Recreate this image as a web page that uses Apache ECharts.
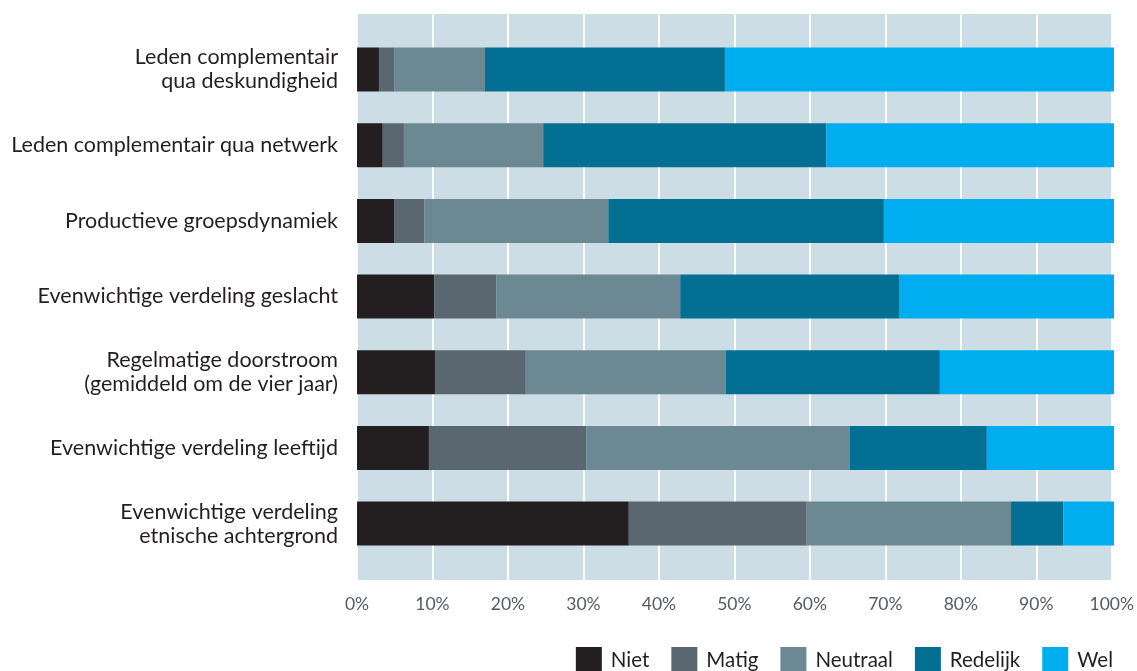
<!DOCTYPE html>
<html>
<head>
<meta charset="utf-8">
<script src="https://cdn.jsdelivr.net/npm/echarts@6/dist/echarts.min.js"></script>
<style>
  html, body { margin: 0; padding: 0; background: #ffffff; }
  #chart { width: 1137px; height: 671px; }
</style>
</head>
<body>
<div id="chart"></div>
<script>
// Statements, top to bottom
const categories = [
  'Leden complementair\nqua deskundigheid',
  'Leden complementair qua netwerk',
  'Productieve groepsdynamiek',
  'Evenwichtige verdeling geslacht',
  'Regelmatige doorstroom\n(gemiddeld om de vier jaar)',
  'Evenwichtige verdeling leeftijd',
  'Evenwichtige verdeling\netnische achtergrond'
];

// Share of answers per statement (%)
const niet     = [2.9, 3.4, 4.9, 10.2, 10.3, 9.5, 35.9];
const matig    = [2.0, 2.8, 4.0, 8.2, 12.0, 20.8, 23.5];
const neutraal = [12.0, 18.4, 24.3, 24.3, 26.4, 34.8, 27.0];
const redelijk = [31.7, 37.4, 36.4, 28.9, 28.3, 18.1, 6.9];
const wel      = [51.4, 38.0, 30.4, 28.4, 23.0, 16.8, 6.7];

const seriesNames = ['Niet', 'Matig', 'Neutraal', 'Redelijk', 'Wel'];
const seriesColors = ['#231f20', '#5b6770', '#6c8893', '#037093', '#00aeef'];
const seriesValues = [niet, matig, neutraal, redelijk, wel];

const xTicks = { min: 0, max: 100, interval: 10 };

const FONT = 'Lato, "Open Sans", sans-serif';

const chart = echarts.init(document.getElementById('chart'));

chart.setOption({
  animation: false,
  textStyle: { fontFamily: FONT },
  grid: [
    // shaded panel with the percentage scale
    { left: 357, top: 14, width: 757, height: 566, show: true,
      backgroundColor: '#cddde5', borderWidth: 0 },
    // bars
    { left: 357, top: 31.7, width: 757, height: 529.7 }
  ],
  legend: {
    data: seriesNames,
    right: 24,
    top: 647,
    padding: 0,
    icon: 'rect',
    itemWidth: 26,
    itemHeight: 26,
    itemGap: 22,
    textStyle: { fontSize: 20.5, color: '#231f20', fontFamily: FONT, padding: [0, 0, 0, 4] }
  },
  xAxis: [
    {
      gridIndex: 0, type: 'value',
      min: xTicks.min, max: xTicks.max, interval: xTicks.interval,
      axisLine: { show: false }, axisTick: { show: false },
      axisLabel: { formatter: '{value}%', fontSize: 17.5, color: '#555b60', margin: 15 },
      splitLine: { show: true, lineStyle: { color: '#ffffff', width: 2 } }
    },
    {
      gridIndex: 1, type: 'value',
      min: xTicks.min, max: xTicks.max,
      show: false, splitLine: { show: false }
    }
  ],
  yAxis: [
    { gridIndex: 0, type: 'value', show: false, splitLine: { show: false } },
    {
      gridIndex: 1, type: 'category', data: categories, inverse: true,
      axisLine: { show: false }, axisTick: { show: false },
      axisLabel: { fontSize: 21.5, color: '#231f20', margin: 19, lineHeight: 24, align: 'right' }
    }
  ],
  series: seriesNames.map((name, i) => ({
    name: name,
    type: 'bar',
    stack: 'total',
    xAxisIndex: 1,
    yAxisIndex: 1,
    barWidth: 44,
    itemStyle: { color: seriesColors[i] },
    data: seriesValues[i]
  }))
});
</script>
</body>
</html>
